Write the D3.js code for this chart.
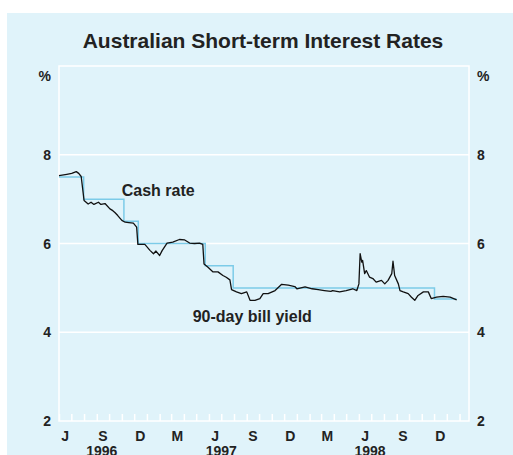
<!DOCTYPE html>
<html lang="en">
<head>
<meta charset="UTF-8">
<title>Australian Short-term Interest Rates</title>
<script src="https://d3js.org/d3.v7.min.js"></script>
<style>
  body { margin: 0; background: #fff; }
  svg { display: block; font-family: "Liberation Sans", Arial, Helvetica, sans-serif; font-weight: bold; }
</style>
</head>
<body>
<div id="chart"></div>
<script>
// 90-day bill yield (date, %)
var billDates = ["1996-06-01","1996-06-20","1996-07-02","1996-07-13","1996-07-19","1996-07-25",
  "1996-08-01","1996-08-11","1996-08-18","1996-08-25","1996-09-05","1996-09-11","1996-09-21",
  "1996-10-03","1996-10-10","1996-10-15","1996-10-22","1996-11-01","1996-11-09","1996-11-18",
  "1996-11-29","1996-12-07","1996-12-10","1996-12-27","1997-01-09","1997-01-17","1997-01-23",
  "1997-02-01","1997-02-07","1997-02-19","1997-03-05","1997-03-21","1997-04-03","1997-04-15",
  "1997-04-27","1997-05-09","1997-05-17","1997-05-20","1997-05-29","1997-06-11","1997-06-23",
  "1997-07-05","1997-07-13","1997-07-22","1997-07-26","1997-08-07","1997-08-19","1997-09-01",
  "1997-09-09","1997-09-21","1997-10-03","1997-10-11","1997-10-23","1997-11-09","1997-11-25",
  "1997-12-11","1997-12-27","1998-01-01","1998-01-21","1998-02-07","1998-02-22","1998-03-09",
  "1998-03-25","1998-03-29","1998-04-15","1998-05-01","1998-05-17","1998-05-27","1998-06-01",
  "1998-06-04","1998-06-08","1998-06-10","1998-06-15","1998-06-19","1998-06-27","1998-07-05",
  "1998-07-13","1998-07-26","1998-08-03","1998-08-11","1998-08-20","1998-08-23","1998-08-27",
  "1998-09-05","1998-09-09","1998-09-17","1998-09-29","1998-10-07","1998-10-15","1998-10-23",
  "1998-11-05","1998-11-17","1998-11-24","1998-12-07","1998-12-23","1999-01-09","1999-01-25"];
var billValues = [7.53,7.56,7.58,7.62,7.58,7.51,
  6.97,6.89,6.93,6.88,6.93,6.88,6.90,
  6.78,6.74,6.70,6.63,6.52,6.48,6.47,
  6.46,6.37,5.98,5.98,5.84,5.77,5.83,
  5.73,5.84,6.01,6.03,6.09,6.08,6.01,
  6.00,6.01,5.98,5.54,5.47,5.36,5.36,
  5.28,5.24,5.18,4.96,4.91,4.87,4.91,
  4.72,4.72,4.76,4.87,4.87,4.94,5.08,
  5.06,5.03,4.98,5.02,4.98,4.96,4.94,
  4.92,4.94,4.91,4.94,4.98,4.94,5.09,
  5.77,5.58,5.62,5.32,5.39,5.24,5.21,
  5.13,5.17,5.09,5.17,5.32,5.60,5.28,
  5.09,4.94,4.91,4.87,4.79,4.72,4.83,
  4.91,4.91,4.76,4.79,4.81,4.79,4.73];

// cash rate target, changes only on these dates
var cashDates = ["1996-06-01","1996-07-31","1996-11-06","1996-12-11","1997-05-23","1997-07-30","1998-12-02","1999-01-25"];
var cashValues = [7.5, 7.0, 6.5, 6.0, 5.5, 5.0, 4.75, 4.75];

var yTicks = [2, 4, 6, 8];
var monthLabels = ["J","S","D","M","J","S","D","M","J","S","D"];
var monthLabelDates = ["1996-06-16","1996-09-16","1996-12-16","1997-03-16","1997-06-16","1997-09-16",
  "1997-12-16","1998-03-16","1998-06-16","1998-09-16","1998-12-16"];
var yearLabels = ["1996","1997","1998"];
var yearLabelDates = ["1996-09-13","1997-07-01","1998-06-28"];

var parse = d3.timeParse("%Y-%m-%d");
var bill = billDates.map(function(d, i) { return {date: parse(d), value: billValues[i]}; });
var cash = cashDates.map(function(d, i) { return {date: parse(d), value: cashValues[i]}; });

var W = 513, H = 455;
var margin = {top: 66, right: 44, bottom: 34, left: 59};
var width = W - margin.left - margin.right,
    height = H - margin.top - margin.bottom;
var bg = "#e0f3fa";

var svg = d3.select("#chart").append("svg")
    .attr("width", W)
    .attr("height", H);

// panel background
svg.append("rect")
    .attr("x", 7).attr("y", 13)
    .attr("width", W - 7).attr("height", H - 13)
    .attr("fill", bg);

svg.append("text")
    .attr("x", 263).attr("y", 48)
    .attr("text-anchor", "middle")
    .attr("font-size", "21px")
    .attr("fill", "#222")
    .text("Australian Short-term Interest Rates");

var g = svg.append("g")
    .attr("transform", "translate(" + margin.left + "," + margin.top + ")");

var x = d3.scaleTime()
    .domain([parse("1996-06-01"), parse("1999-02-24")])
    .range([0, width]);
var y = d3.scaleLinear()
    .domain([2, 10])
    .range([height, 0]);

// white grid lines
g.selectAll(".grid")
  .data([4, 6, 8])
  .enter().append("line")
    .attr("x1", 0).attr("x2", width)
    .attr("y1", function(d) { return y(d); })
    .attr("y2", function(d) { return y(d); })
    .attr("stroke", "#fff")
    .attr("stroke-width", 1.5);

// frame
g.append("rect")
    .attr("width", width).attr("height", height)
    .attr("fill", "none")
    .attr("stroke", "#fff")
    .attr("stroke-width", 1.5);

// monthly ticks pointing up from the bottom
var xAxis = d3.axisBottom(x)
    .ticks(d3.timeMonth.every(1))
    .tickSize(-7)
    .tickFormat("");
var ax = g.append("g")
    .attr("transform", "translate(0," + height + ")")
    .call(xAxis);
ax.select(".domain").remove();
ax.selectAll("line").attr("stroke", "#fff").attr("stroke-width", 1.5);

// y labels both sides
function yLabels(xpos, anchor) {
  g.selectAll(null)
    .data(yTicks)
    .enter().append("text")
      .attr("x", xpos)
      .attr("y", function(d) { return y(d); })
      .attr("dy", "0.36em")
      .attr("text-anchor", anchor)
      .attr("font-size", "14px")
      .attr("fill", "#222")
      .text(function(d) { return d; });
  g.append("text")
      .attr("x", xpos)
      .attr("y", y(10) + 15)
      .attr("text-anchor", anchor)
      .attr("font-size", "14px")
      .attr("fill", "#222")
      .text("%");
}
yLabels(-8, "end");
yLabels(width + 8, "start");

g.selectAll(".mon")
  .data(monthLabels)
  .enter().append("text")
    .attr("x", function(d, i) { return x(parse(monthLabelDates[i])); })
    .attr("y", height + 20)
    .attr("text-anchor", "middle")
    .attr("font-size", "14px")
    .attr("fill", "#222")
    .text(function(d) { return d; });

g.selectAll(".yr")
  .data(yearLabels)
  .enter().append("text")
    .attr("x", function(d, i) { return x(parse(yearLabelDates[i])); })
    .attr("y", height + 35)
    .attr("text-anchor", "middle")
    .attr("font-size", "14px")
    .attr("fill", "#222")
    .text(function(d) { return d; });

// cash rate: step line
g.append("path")
    .datum(cash)
    .attr("fill", "none")
    .attr("stroke", "#7ccbe8")
    .attr("stroke-width", 1.5)
    .attr("d", d3.line()
      .x(function(d) { return x(d.date); })
      .y(function(d) { return y(d.value); })
      .curve(d3.curveStepAfter));

// 90-day bill yield
g.append("path")
    .datum(bill)
    .attr("fill", "none")
    .attr("stroke", "#111")
    .attr("stroke-width", 1.3)
    .attr("stroke-linejoin", "round")
    .attr("d", d3.line()
      .x(function(d) { return x(d.date); })
      .y(function(d) { return y(d.value); }));

g.append("text")
    .attr("x", 121.7 - margin.left).attr("y", 196 - margin.top)
    .attr("font-size", "16px").attr("fill", "#222")
    .text("Cash rate");
g.append("text")
    .attr("x", 192.7 - margin.left).attr("y", 321.5 - margin.top)
    .attr("font-size", "16px").attr("fill", "#222")
    .text("90-day bill yield");
</script>
</body>
</html>
